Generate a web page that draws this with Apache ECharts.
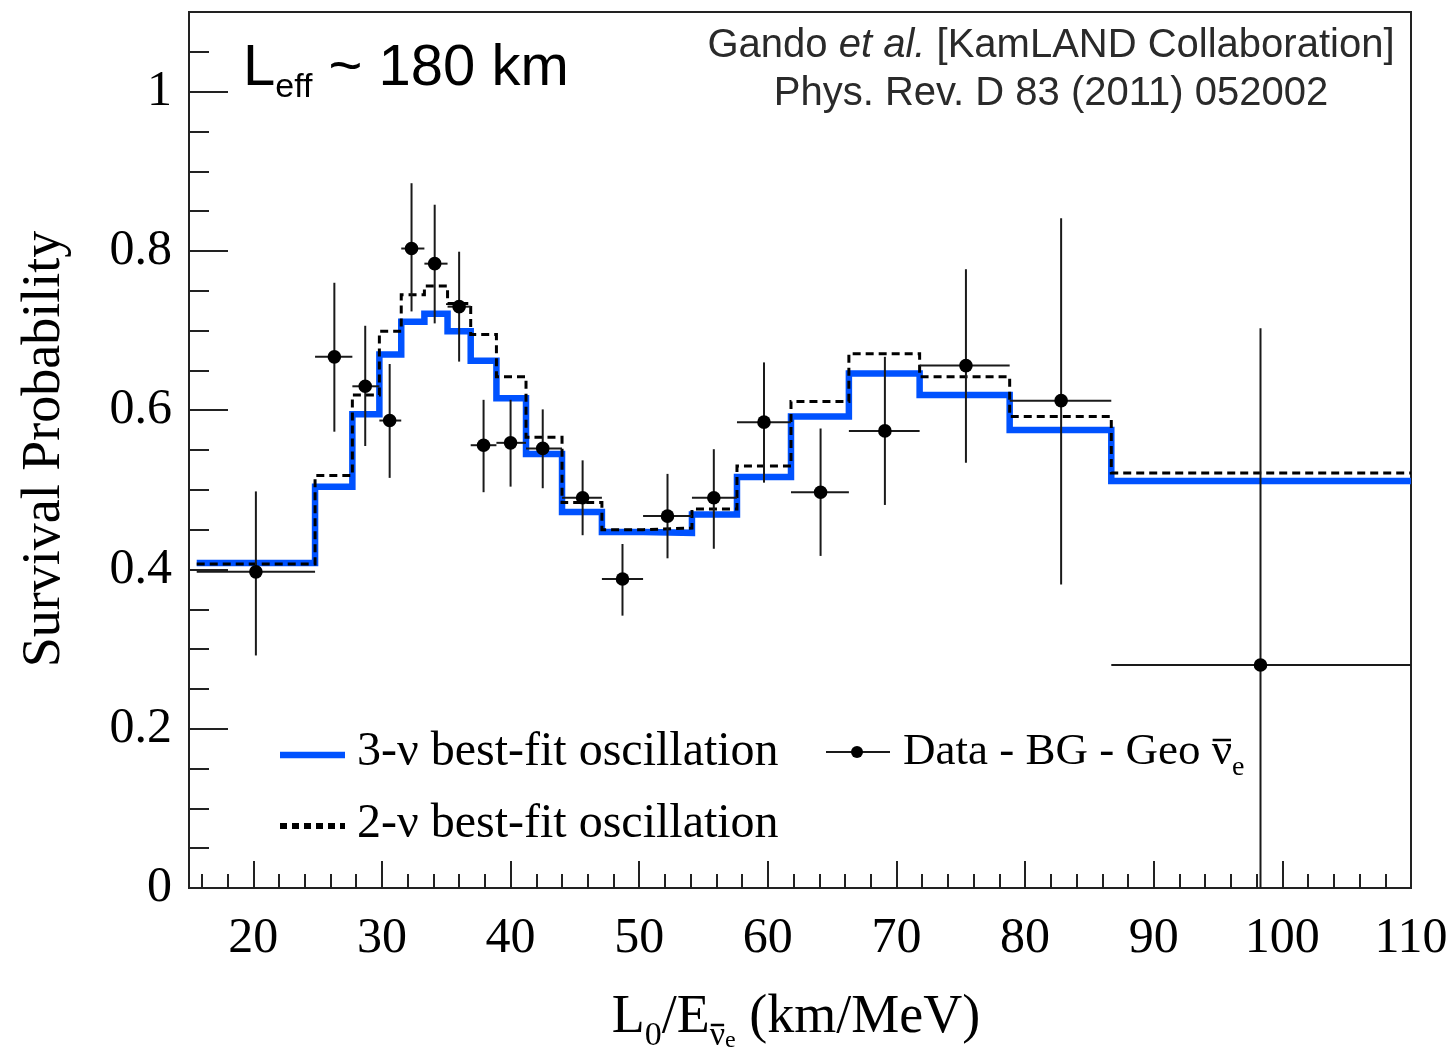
<!DOCTYPE html>
<html>
<head>
<meta charset="utf-8">
<script src="https://cdn.jsdelivr.net/npm/echarts@6/dist/echarts.min.js"></script>
<style>
  html, body { margin: 0; padding: 0; background: #fff; }
  #chart { width: 1454px; height: 1057px; }
</style>
</head>
<body>
<div id="chart"></div>
<script>
// ---------------- data ----------------
// bin edges in L0/E (km/MeV)
const binEdges = [15.6, 24.8, 27.7, 29.8, 31.5, 33.3, 35.1, 36.9, 38.9, 41.2, 44.0, 47.1, 50.3, 54.1, 57.6, 61.8, 66.3, 71.8, 78.8, 86.7, 110];
// 3-nu best fit (per bin)
const fit3nu = [0.408, 0.504, 0.595, 0.670, 0.711, 0.721, 0.699, 0.662, 0.615, 0.545, 0.472, 0.447, 0.446, 0.469, 0.516, 0.592, 0.646, 0.619, 0.575, 0.511];
// 2-nu best fit (per bin)
const fit2nu = [0.407, 0.518, 0.619, 0.699, 0.745, 0.756, 0.734, 0.695, 0.642, 0.566, 0.484, 0.450, 0.452, 0.476, 0.530, 0.611, 0.671, 0.642, 0.592, 0.521];
// data points (Data - BG - Geo)
const dataX  = [20.2, 26.3, 28.7, 30.6, 32.3, 34.1, 36.0, 37.9, 40.0, 42.5, 45.6, 48.7, 52.2, 55.8, 59.7, 64.1, 69.1, 75.4, 82.8, 98.3];
const dataY  = [0.397, 0.667, 0.630, 0.587, 0.803, 0.784, 0.730, 0.556, 0.559, 0.552, 0.490, 0.388, 0.467, 0.490, 0.585, 0.497, 0.574, 0.656, 0.612, 0.280];
const errHi  = [0.498, 0.760, 0.706, 0.658, 0.885, 0.858, 0.799, 0.613, 0.613, 0.601, 0.537, 0.432, 0.520, 0.551, 0.660, 0.577, 0.667, 0.777, 0.841, 0.703];
const errLo  = [0.292, 0.573, 0.555, 0.515, 0.724, 0.709, 0.661, 0.497, 0.504, 0.502, 0.443, 0.342, 0.414, 0.426, 0.509, 0.417, 0.481, 0.534, 0.381, -0.143];
// ticks
const xMajorTicks = [20, 30, 40, 50, 60, 70, 80, 90, 100, 110];
const xMinorTicks = [16, 18, 22, 24, 26, 28, 32, 34, 36, 38, 42, 44, 46, 48, 52, 54, 56, 58, 62, 64, 66, 68, 72, 74, 76, 78, 82, 84, 86, 88, 92, 94, 96, 98, 102, 104, 106, 108];
const yMajorTicks = [0, 0.2, 0.4, 0.6, 0.8, 1];
const yMinorTicks = [0.05, 0.1, 0.15, 0.25, 0.3, 0.35, 0.45, 0.5, 0.55, 0.65, 0.7, 0.75, 0.85, 0.9, 0.95, 1.05];

// ---------------- build ----------------
function stepData(vals) {
  const out = [];
  for (let i = 0; i < vals.length; i++) {
    out.push([binEdges[i], vals[i]]);
    out.push([binEdges[i + 1], vals[i]]);
  }
  return out;
}
const pointRows = dataX.map((x, i) => [x, dataY[i], binEdges[i], binEdges[i + 1], errLo[i], errHi[i]]);

const SERIF = 'Liberation Serif';
const SANS = 'Liberation Sans';
const BLUE = '#0052ff';

const mctx = document.createElement('canvas').getContext('2d');
function tw(text, size, family) {
  mctx.font = size + 'px "' + family + '"';
  return mctx.measureText(text).width;
}

// x-axis title pieces
const XT = { cx: 796, cy: 1018, m: 54, s: 34, ss: 24 };
const xtW = tw('L', XT.m, SERIF) + tw('0', XT.s, SERIF) + tw('/E', XT.m, SERIF) + tw('ν', XT.s, SERIF) + tw('e', XT.ss, SERIF) + tw(' (km/MeV)', XT.m, SERIF);
const xtLeft = XT.cx - xtW / 2;
const xtNuL = xtLeft + tw('L', XT.m, SERIF) + tw('0', XT.s, SERIF) + tw('/E', XT.m, SERIF);
const xtNuW = tw('ν', XT.s, SERIF);

// legend data label
const LG = { x: 903, y: 752, m: 45, s: 28 };
const lgNuL = LG.x + tw('Data - BG - Geo ', LG.m, SERIF);
const lgNuW = tw('ν', LG.m, SERIF);

const chart = echarts.init(document.getElementById('chart'), null, { renderer: 'canvas' });

const axisCommonX = { type: 'value', min: 15, max: 110, splitLine: { show: false } };
const axisCommonY = { type: 'value', min: 0, max: 1.1, splitLine: { show: false } };

const option = {
  animation: false,
  backgroundColor: '#fff',
  grid: { left: 189, right: 43, top: 12, bottom: 169, show: true, borderColor: '#222', borderWidth: 2, backgroundColor: 'transparent' },
  xAxis: [
    Object.assign({}, axisCommonX, {
      position: 'bottom',
      axisLine: { show: true, lineStyle: { color: '#222', width: 2 } },
      axisTick: { show: true, inside: true, length: 27, customValues: xMajorTicks, lineStyle: { color: '#222', width: 2 } },
      axisLabel: { show: true, customValues: xMajorTicks, fontFamily: SERIF, fontSize: 50, color: '#000', margin: 26 }
    }),
    Object.assign({}, axisCommonX, {
      position: 'bottom',
      axisLine: { show: false },
      axisTick: { show: true, inside: true, length: 14, customValues: xMinorTicks, lineStyle: { color: '#222', width: 2 } },
      axisLabel: { show: false }
    })
  ],
  yAxis: [
    Object.assign({}, axisCommonY, {
      position: 'left',
      axisLine: { show: true, lineStyle: { color: '#222', width: 2 } },
      axisTick: { show: true, inside: true, length: 39, customValues: yMajorTicks, lineStyle: { color: '#222', width: 2 } },
      axisLabel: { show: true, customValues: yMajorTicks, fontFamily: SERIF, fontSize: 50, color: '#000', margin: 17,
        formatter: v => String(Math.round(v * 10) / 10) }
    }),
    Object.assign({}, axisCommonY, {
      position: 'left',
      axisLine: { show: false },
      axisTick: { show: true, inside: true, length: 20, customValues: yMinorTicks, lineStyle: { color: '#222', width: 2 } },
      axisLabel: { show: false }
    })
  ],
  series: [
    {
      name: '3-ν best-fit oscillation', type: 'line', xAxisIndex: 0, yAxisIndex: 0,
      data: stepData(fit3nu), showSymbol: false, symbol: 'none',
      lineStyle: { color: BLUE, width: 6.5, join: 'miter', cap: 'butt' }, z: 2
    },
    {
      name: '2-ν best-fit oscillation', type: 'line', xAxisIndex: 0, yAxisIndex: 0,
      data: stepData(fit2nu), showSymbol: false, symbol: 'none',
      lineStyle: { color: '#000', width: 3, type: [8, 5], join: 'miter', cap: 'butt' }, z: 3
    },
    {
      name: 'Data', type: 'custom', xAxisIndex: 0, yAxisIndex: 0, z: 4,
      data: pointRows,
      renderItem: function (params, api) {
        const cs = params.coordSys;
        const clampY = v => Math.max(cs.y, Math.min(cs.y + cs.height, v));
        const x = api.value(0), y = api.value(1);
        const p = api.coord([x, y]);
        const l = api.coord([api.value(2), y]);
        const r = api.coord([api.value(3), y]);
        const b = api.coord([x, api.value(4)]);
        const t = api.coord([x, api.value(5)]);
        const st = { stroke: '#1a1a1a', lineWidth: 2 };
        return {
          type: 'group',
          children: [
            { type: 'line', shape: { x1: l[0], y1: p[1], x2: r[0], y2: p[1] }, style: st },
            { type: 'line', shape: { x1: p[0], y1: clampY(t[1]), x2: p[0], y2: clampY(b[1]) }, style: st },
            { type: 'circle', shape: { cx: p[0], cy: p[1], r: 6.8 }, style: { fill: '#000' } }
          ]
        };
      }
    }
  ],
  graphic: [
    // y-axis title
    { type: 'text', x: 45, y: 449, rotation: Math.PI / 2,
      style: { text: 'Survival Probability', font: '54px "' + SERIF + '"', fill: '#000', align: 'center', verticalAlign: 'middle' } },
    // x-axis title
    { type: 'text', x: XT.cx, y: XT.cy,
      style: {
        text: '{m|L}{s|0}{m|/E}{s|ν}{ss|e}{m| (km/MeV)}',
        align: 'center', verticalAlign: 'middle',
        rich: {
          m: { fontFamily: SERIF, fontSize: XT.m, lineHeight: 70, fill: '#000', verticalAlign: 'middle' },
          s: { fontFamily: SERIF, fontSize: XT.s, lineHeight: 36, fill: '#000', verticalAlign: 'bottom' },
          ss: { fontFamily: SERIF, fontSize: XT.ss, lineHeight: 12, fill: '#000', verticalAlign: 'bottom' }
        }
      } },
    { type: 'line', shape: { x1: xtNuL + 1, y1: 1025, x2: xtNuL + xtNuW - 1, y2: 1025 }, style: { stroke: '#000', lineWidth: 2.5 } },
    // L_eff label
    { type: 'text', x: 243, y: 69,
      style: {
        text: '{m|L}{s|eff}{m| ~ 180 km}',
        align: 'left', verticalAlign: 'middle',
        rich: {
          m: { fontFamily: SANS, fontSize: 58, lineHeight: 72, fill: '#000', verticalAlign: 'middle' },
          s: { fontFamily: SANS, fontSize: 34, lineHeight: 54, fill: '#000', verticalAlign: 'bottom' }
        }
      } },
    // citation
    { type: 'text', x: 1051, y: 46,
      style: {
        text: '{r|Gando }{i|et al.}{r| [KamLAND Collaboration]}',
        align: 'center', verticalAlign: 'middle',
        rich: {
          r: { fontFamily: SANS, fontSize: 40, fill: '#2a2a2a' },
          i: { fontFamily: SANS, fontSize: 40, fontStyle: 'italic', fill: '#2a2a2a' }
        }
      } },
    { type: 'text', x: 1051, y: 94,
      style: { text: 'Phys. Rev. D 83 (2011) 052002', font: '40px "' + SANS + '"', fill: '#2a2a2a', align: 'center', verticalAlign: 'middle' } },
    // legend row 1: 3-nu
    { type: 'line', shape: { x1: 280, y1: 755, x2: 345, y2: 755 }, style: { stroke: BLUE, lineWidth: 6.5 } },
    { type: 'text', x: 357, y: 752,
      style: { text: '3-ν best-fit oscillation', font: '48px "' + SERIF + '"', fill: '#000', align: 'left', verticalAlign: 'middle' } },
    // legend row 1: data
    { type: 'line', shape: { x1: 826, y1: 752, x2: 890, y2: 752 }, style: { stroke: '#1a1a1a', lineWidth: 2 } },
    { type: 'circle', shape: { cx: 857, cy: 752, r: 6 }, style: { fill: '#000' } },
    { type: 'text', x: LG.x, y: LG.y,
      style: {
        text: '{m|Data - BG - Geo ν}{s|e}',
        align: 'left', verticalAlign: 'middle',
        rich: {
          m: { fontFamily: SERIF, fontSize: LG.m, lineHeight: 60, fill: '#000', verticalAlign: 'middle' },
          s: { fontFamily: SERIF, fontSize: LG.s, lineHeight: 28, fill: '#000', verticalAlign: 'bottom' }
        }
      } },
    { type: 'line', shape: { x1: lgNuL + 1, y1: 740, x2: lgNuL + lgNuW - 1, y2: 740 }, style: { stroke: '#000', lineWidth: 2.5 } },
    // legend row 2: 2-nu
    { type: 'line', shape: { x1: 280, y1: 826, x2: 345, y2: 826 }, style: { stroke: '#000', lineWidth: 6, lineDash: [7, 5] } },
    { type: 'text', x: 357, y: 824,
      style: { text: '2-ν best-fit oscillation', font: '48px "' + SERIF + '"', fill: '#000', align: 'left', verticalAlign: 'middle' } }
  ]
};
chart.setOption(option);
</script>
</body>
</html>
